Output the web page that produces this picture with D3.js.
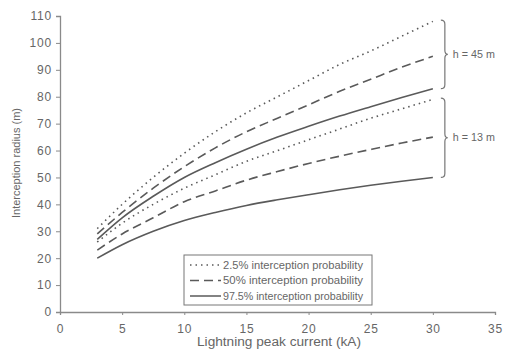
<!DOCTYPE html>
<html>
<head>
<meta charset="utf-8">
<title></title>
<script src="https://d3js.org/d3.v7.min.js"></script>
<style>
body { margin: 0; background: #fff; }
text { font-family: Arial, "Liberation Sans", sans-serif; }
</style>
</head>
<body>
<script>
// peak current (kA)
const current = [3, 5, 7.5, 10, 12.5, 15, 17.5, 20, 22.5, 25, 27.5, 30]
// interception radius (m), h = 45 m
const h45_p025 = [31, 40, 50, 59, 67, 74, 80, 86, 92, 97, 102.5, 108]
const h45_p50  = [29, 37, 46, 54, 61, 67, 72, 77, 82, 86.5, 91, 95]
const h45_p975 = [27, 35, 43, 50, 55.5, 60.5, 65, 69, 72.8, 76.3, 79.7, 83]
// h = 13 m
const h13_p025 = [26, 33, 40, 46, 51, 56, 60, 64, 68, 72, 75.5, 79]
const h13_p50  = [23, 29, 35, 41, 45, 49, 52.2, 55.2, 57.9, 60.4, 62.8, 65]
const h13_p975 = [20, 25, 30, 34, 37, 39.6, 41.7, 43.6, 45.4, 47.1, 48.6, 50]

const xTicks = [0, 5, 10, 15, 20, 25, 30, 35]
const yTicks = [0, 10, 20, 30, 40, 50, 60, 70, 80, 90, 100, 110]
const legendLabels = ['2.5% interception probability', '50% interception probability', '97.5% interception probability']

const width = 506, height = 358
const margin = { top: 16, right: 11, bottom: 46, left: 60 }
const innerW = width - margin.left - margin.right
const innerH = height - margin.top - margin.bottom

const svg = d3.select('body').append('svg')
  .attr('width', width).attr('height', height)

const g = svg.append('g').attr('transform', `translate(${margin.left},${margin.top})`)

const x = d3.scaleLinear().domain([0, 35]).range([0, innerW])
const y = d3.scaleLinear().domain([0, 110]).range([innerH, 0])

const axisColor = '#8a8a8a'
const textColor = '#666'

// x axis
const xAxis = g.append('g').attr('transform', `translate(0,${innerH})`)
  .call(d3.axisBottom(x).tickValues(xTicks).tickSize(3).tickPadding(9))
// y axis
const yAxis = g.append('g')
  .call(d3.axisLeft(y).tickValues(yTicks).tickSize(4).tickPadding(4))

;[xAxis, yAxis].forEach(a => {
  a.select('.domain').attr('stroke', axisColor).attr('stroke-width', 1.3)
  a.selectAll('.tick line').attr('stroke', axisColor)
  a.selectAll('.tick text').attr('fill', textColor)
    .style('font-size', '12px').style('letter-spacing', '0.8px')
})

// axis titles
svg.append('text')
  .attr('x', 279).attr('y', 346)
  .attr('text-anchor', 'middle').attr('fill', textColor).style('font-size', '12px')
  .attr('textLength', 164).attr('lengthAdjust', 'spacingAndGlyphs')
  .text('Lightning peak current (kA)')
svg.append('text')
  .attr('transform', `translate(20,163) rotate(-90)`)
  .attr('text-anchor', 'middle').attr('fill', textColor).style('font-size', '11px')
  .text('Interception radius (m)')

// series
const lineColor = '#5a5a5a'
const styles = {
  dot: { dash: '1.5,4', w: 1.6 },
  dash: { dash: '9,5', w: 1.6 },
  solid: { dash: null, w: 1.6 }
}
const series = [
  { v: h45_p025, s: 'dot' },
  { v: h45_p50, s: 'dash' },
  { v: h45_p975, s: 'solid' },
  { v: h13_p025, s: 'dot' },
  { v: h13_p50, s: 'dash' },
  { v: h13_p975, s: 'solid' }
]
const line = d3.line()
  .x((d, i) => x(current[i]))
  .y(d => y(d))
  .curve(d3.curveMonotoneX)

series.forEach(sr => {
  g.append('path')
    .datum(sr.v)
    .attr('d', line)
    .attr('fill', 'none')
    .attr('stroke', lineColor)
    .attr('stroke-width', styles[sr.s].w)
    .attr('stroke-dasharray', styles[sr.s].dash)
})

// braces
function brace(y0, y1, xPos) {
  const ym = (y0 + y1) / 2
  const w = 4
  return `M${xPos},${y0} Q${xPos + w},${y0} ${xPos + w},${y0 + 4}
    L${xPos + w},${ym - 4} Q${xPos + w},${ym} ${xPos + w + 3},${ym}
    Q${xPos + w},${ym} ${xPos + w},${ym + 4}
    L${xPos + w},${y1 - 4} Q${xPos + w},${y1} ${xPos},${y1}`
}
const bx = x(30) + 8
const braces = [
  { top: 108.5, bottom: 83, label: 'h = 45 m' },
  { top: 79.5, bottom: 50, label: 'h = 13 m' }
]
braces.forEach(b => {
  const y0 = y(b.top), y1 = y(b.bottom)
  g.append('path')
    .attr('d', brace(y0, y1, bx))
    .attr('fill', 'none').attr('stroke', '#777').attr('stroke-width', 1.2)
  g.append('text')
    .attr('x', bx + 12).attr('y', (y0 + y1) / 2)
    .attr('dy', '0.35em').attr('fill', textColor).style('font-size', '10px')
    .attr('textLength', 42).attr('lengthAdjust', 'spacingAndGlyphs')
    .text(b.label)
})

// legend
const lg = svg.append('g').attr('transform', 'translate(184,255)')
lg.append('rect')
  .attr('width', 188).attr('height', 50)
  .attr('fill', '#fff').attr('stroke', '#777').attr('stroke-width', 1)
const legendStyles = ['dot', 'dash', 'solid']
legendLabels.forEach((lab, i) => {
  const ly = 10 + i * 15.5
  lg.append('line')
    .attr('x1', 6).attr('x2', 37).attr('y1', ly).attr('y2', ly)
    .attr('stroke', lineColor).attr('stroke-width', 1.5)
    .attr('stroke-dasharray', styles[legendStyles[i]].dash)
  lg.append('text')
    .attr('x', 39).attr('y', ly).attr('dy', '0.35em')
    .attr('fill', textColor).style('font-size', '10px')
    .attr('textLength', 140).attr('lengthAdjust', 'spacingAndGlyphs')
    .text(lab)
})
</script>
</body>
</html>
